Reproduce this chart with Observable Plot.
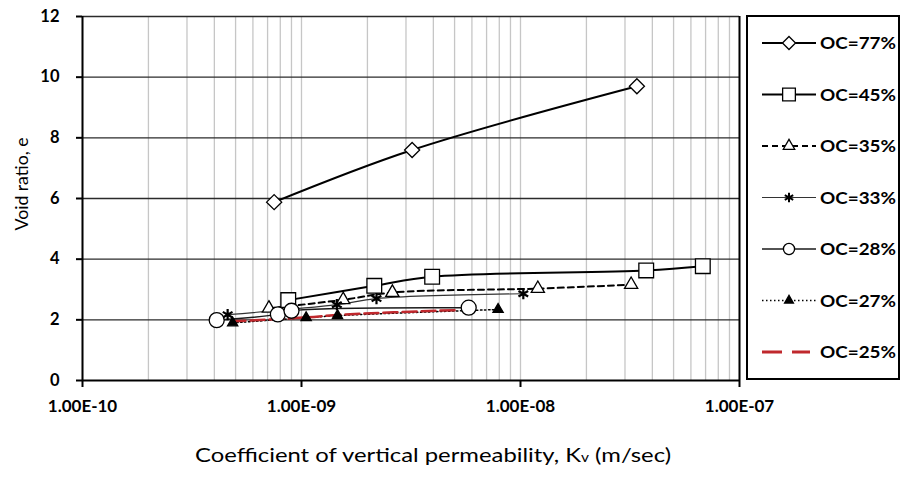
<!DOCTYPE html>
<html>
<head>
<meta charset="utf-8">
<script src="https://cdn.jsdelivr.net/npm/d3@7"></script>
<script src="https://cdn.jsdelivr.net/npm/@observablehq/plot@0.6"></script>
<style>
  html, body { margin: 0; padding: 0; background: #fff; }
  #chart { position: relative; width: 901px; height: 477px; }
</style>
</head>
<body>
<div id="chart"></div>
<script>
// ---- data ----
const seriesNames = ["OC=77%", "OC=45%", "OC=35%", "OC=33%", "OC=28%", "OC=27%", "OC=25%"];

const oc77K = [7.5e-10, 3.2e-9, 3.4e-8];
const oc77E = [5.88, 7.6, 9.7];

const oc45K = [8.7e-10, 2.15e-9, 3.95e-9, 3.75e-8, 6.8e-8];
const oc45E = [2.65, 3.12, 3.42, 3.63, 3.77];

const oc35K = [7.1e-10, 1.55e-9, 2.6e-9, 1.2e-8, 3.2e-8];
const oc35E = [2.38, 2.66, 2.9, 3.03, 3.16];

const oc33K = [4.6e-10, 1.45e-9, 2.2e-9, 1.03e-8];
const oc33E = [2.17, 2.5, 2.7, 2.86];

const oc28K = [4.1e-10, 7.8e-10, 9.0e-10, 5.8e-9];
const oc28E = [1.99, 2.18, 2.3, 2.4];

const oc27K = [4.85e-10, 1.05e-9, 1.46e-9, 7.9e-9];
const oc27E = [1.9, 2.07, 2.14, 2.34];

const oc25K = [4.8e-10, 1.05e-9, 1.5e-9, 5.0e-9];
const oc25E = [1.95, 2.08, 2.17, 2.32];

const xTicks = [1e-10, 1e-9, 1e-8, 1e-7];
const xTickLabels = ["1.00E-10", "1.00E-09", "1.00E-08", "1.00E-07"];
const yTicks = [0, 2, 4, 6, 8, 10, 12];
const xTitle = "Coefficient of vertical permeability, K";
const xTitleSub = "v";
const xTitleEnd = " (m/sec)";
const yTitle = "Void ratio, e";

// ---- styles ----
const styles = {
  "OC=77%": {stroke: "#000", width: 2, dash: null, symbol: "diamond2", r: 6.8, fill: "#fff"},
  "OC=45%": {stroke: "#000", width: 2, dash: null, symbol: "square", r: 8.3, fill: "#fff"},
  "OC=35%": {stroke: "#000", width: 2, dash: "6,4", symbol: "triangle", r: 4.9, fill: "#fff"},
  "OC=33%": {stroke: "#333", width: 1.2, dash: null, symbol: "asterisk", r: 5.3, fill: "none"},
  "OC=28%": {stroke: "#1a1a1a", width: 1.5, dash: null, symbol: "circle", r: 7.5, fill: "#fff"},
  "OC=27%": {stroke: "#000", width: 1.5, dash: "1.5,2.5", symbol: "triangle", r: 3.8, fill: "#000"},
  "OC=25%": {stroke: "#c0282d", width: 2.5, dash: "14,5", symbol: null, r: 0, fill: "none"}
};

const rawK = [oc77K, oc45K, oc35K, oc33K, oc28K, oc27K, oc25K];
const rawE = [oc77E, oc45E, oc35E, oc33E, oc28E, oc27E, oc25E];
const series = seriesNames.map((name, i) => ({
  name,
  rows: rawK[i].map((k, j) => ({k, e: rawE[i][j], series: name}))
}));

// vertical gridlines (1..9 x each decade)
const gridX = [];
for (let p = -10; p < -7; p++) for (let m = 1; m < 10; m++) gridX.push(m * Math.pow(10, p));
gridX.push(1e-7);

const marks = [
  Plot.ruleX(gridX, {stroke: "#c6c6c6", strokeWidth: 1.3}),
  Plot.ruleY(yTicks.filter(d => d > 0), {stroke: "#2b2b2b", strokeWidth: 1.3}),
  Plot.ruleX([1e-7], {stroke: "#000", strokeWidth: 2}),
  Plot.ruleX([1e-10], {stroke: "#000", strokeWidth: 2}),
  Plot.ruleY([0], {stroke: "#000", strokeWidth: 2}),
  Plot.axisX(xTicks, {
    anchor: "bottom", label: null, tickSize: 7, tickPadding: 12,
    tickFormat: d => xTickLabels[xTicks.indexOf(d)],
    stroke: "#000", strokeWidth: 2, fontSize: 17, fontWeight: "bold", fill: "#000"
  }),
  Plot.axisY(yTicks, {
    anchor: "left", label: null, tickSize: 6, tickPadding: 17,
    stroke: "#000", strokeWidth: 2, fontSize: 16.5, fontWeight: "bold", fill: "#000"
  })
];

series.forEach(s => {
  const st = styles[s.name];
  marks.push(Plot.line(s.rows, {
    x: "k", y: "e", stroke: st.stroke, strokeWidth: st.width,
    strokeDasharray: st.dash || undefined, curve: "catmull-rom"
  }));
});
series.forEach(s => {
  const st = styles[s.name];
  if (!st.symbol) return;
  marks.push(Plot.dot(s.rows, {
    x: "k", y: "e", symbol: () => st.symbol, r: st.r,
    fill: st.fill, stroke: "#000", strokeWidth: st.symbol === "asterisk" ? 2.2 : 1.3
  }));
});

const chart = Plot.plot({
  width: 901, height: 477,
  marginLeft: 82, marginRight: 162, marginTop: 16, marginBottom: 97,
  style: {fontFamily: "Lato, 'Open Sans', sans-serif", background: "#fff", overflow: "visible"},
  x: {type: "log", domain: [1e-10, 1e-7]},
  y: {domain: [0, 12]},
  symbol: {domain: ["diamond2", "square", "triangle", "asterisk", "circle"], range: ["diamond2", "square", "triangle", "asterisk", "circle"]},
  marks
});
document.getElementById("chart").appendChild(chart);

// ---- titles and legend ----
const svg = d3.select(chart);
const xt = svg.append("text")
  .attr("x", 433).attr("y", 462).attr("text-anchor", "middle")
  .attr("textLength", 476).attr("lengthAdjust", "spacingAndGlyphs")
  .style("font-family", "Lato, sans-serif").style("font-size", "20px").attr("fill", "#000");
xt.append("tspan").text(xTitle);
xt.append("tspan").text(xTitleSub).style("font-size", "13px");
xt.append("tspan").text(xTitleEnd);

svg.append("text")
  .attr("transform", "translate(28,184) rotate(-90)")
  .attr("text-anchor", "middle")
  .attr("textLength", 93).attr("lengthAdjust", "spacingAndGlyphs")
  .style("font-family", "Lato, sans-serif").style("font-size", "18px").attr("fill", "#000")
  .text(yTitle);

const lg = svg.append("g").attr("text-anchor", "start");
lg.append("rect").attr("x", 747).attr("y", 16).attr("width", 152).attr("height", 363)
  .attr("fill", "#fff").attr("stroke", "#000").attr("stroke-width", 2);

const symMap = {diamond2: d3.symbolDiamond2, square: d3.symbolSquare, triangle: d3.symbolTriangle,
  asterisk: d3.symbolAsterisk, circle: d3.symbolCircle};
seriesNames.forEach((name, i) => {
  const st = styles[name];
  const y = 43 + i * 51.5;
  const g = lg.append("g");
  g.append("line").attr("x1", 762).attr("x2", st.symbol ? 816 : 810).attr("y1", y).attr("y2", y)
    .attr("stroke", st.stroke).attr("stroke-width", name === "OC=25%" ? 3 : st.width)
    .attr("stroke-dasharray", name === "OC=25%" ? "20,10" : (st.dash || null));
  if (st.symbol) {
    const size = Math.PI * st.r * st.r * (st.symbol === "circle" ? 0.55 : 0.75);
    g.append("path").attr("transform", `translate(789,${y})`)
      .attr("d", d3.symbol(symMap[st.symbol], size)())
      .attr("fill", st.fill).attr("stroke", "#000")
      .attr("stroke-width", st.symbol === "asterisk" ? 2 : 1.3);
  }
  g.append("text").attr("x", 820).attr("y", y).attr("dy", "0.36em")
    .attr("text-anchor", "start")
    .attr("textLength", 76).attr("lengthAdjust", "spacingAndGlyphs")
    .style("font-family", "Lato, sans-serif").style("font-size", "17px").style("font-weight", "bold")
    .attr("fill", "#000").text(name);
});
</script>
</body>
</html>
